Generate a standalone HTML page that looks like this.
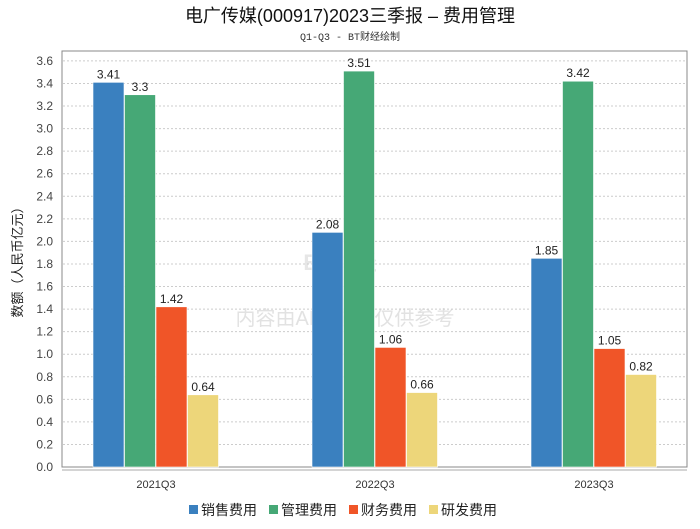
<!DOCTYPE html>
<html><head><meta charset="utf-8"><style>
body{margin:0;background:#fff;font-family:"Liberation Sans","Noto Sans CJK SC",sans-serif}
</style></head><body>
<svg width="700" height="524" xmlns="http://www.w3.org/2000/svg" id="chart">
<text x="350" y="22" text-anchor="middle" font-size="18" fill="#111" font-family="Liberation Sans,Noto Sans CJK SC,sans-serif">电广传媒(000917)2023三季报 – 费用管理</text>
<text x="350" y="40" text-anchor="middle" font-size="10" fill="#333" font-family="Liberation Mono,Noto Sans CJK SC,monospace">Q1-Q3 - BT财经绘制</text>
<text x="340" y="270" text-anchor="middle" font-size="22" font-weight="bold" fill="#e6e6e6">BT财经</text>
<text x="345" y="325" text-anchor="middle" font-size="20" fill="#e2e2e2">内容由AI生成，仅供参考</text>
<rect x="62" y="51" width="625" height="416" fill="none" stroke="#888"/>
<g id="grid"></g><g id="bars"></g><g id="axes"></g>
<text transform="translate(22,259) rotate(-90)" text-anchor="middle" font-size="13" fill="#222">数额（人民币亿元）</text>
<g id="legend"></g>
</svg>
<script>
const categories=["2021Q3","2022Q3","2023Q3"];
const seriesNames=["销售费用","管理费用","财务费用","研发费用"];
const sales=[3.41,2.08,1.85];
const admin=[3.3,3.51,3.42];
const finance=[1.42,1.06,1.05];
const rnd=[0.64,0.66,0.82];
const yTicks=[0,0.2,0.4,0.6,0.8,1.0,1.2,1.4,1.6,1.8,2.0,2.2,2.4,2.6,2.8,3.0,3.2,3.4,3.6];
const colors=["#3a80bf","#46a876","#f05528","#edd67a"];
const series=[sales,admin,finance,rnd];
const NS="http://www.w3.org/2000/svg";
const y=v=>467-v*112.8;
const xc=i=>156+i*219;
function mk(t,a,p){const e=document.createElementNS(NS,t);for(const k in a)e.setAttribute(k,a[k]);p.appendChild(e);return e;}
const grid=document.getElementById('grid'),axes=document.getElementById('axes'),bars=document.getElementById('bars'),legend=document.getElementById('legend');
yTicks.forEach(v=>{
 if(v>0){const l=mk('line',{x1:63,x2:686,y1:y(v),y2:y(v),stroke:'#ccc','stroke-dasharray':'2,2'},grid);
 
 }
 const t=mk('text',{x:53,y:y(v)+4,'text-anchor':'end','font-size':12,fill:'#444'},axes);t.textContent=v.toFixed(1);
 
 
});
const xl=mk('line',{x1:62,x2:687,y1:470,y2:470,stroke:'#aaa'},axes);


categories.forEach((c,i)=>{
 const t=mk('text',{x:xc(i),y:488,'text-anchor':'middle','font-size':11,fill:'#333'},axes);t.textContent=c;
 
 
 series.forEach((s,j)=>{
  const x0=xc(i)-63+j*31.5;
  const r=mk('rect',{x:x0,y:y(s[i]),width:31,height:467-y(s[i]),fill:colors[j],stroke:'#fff','stroke-width':0.6},bars);
  
  
  const lb=mk('text',{x:x0+15.5,y:y(s[i])-4,'text-anchor':'middle','font-size':12,fill:'#222'},bars);lb.textContent=String(s[i]);
  
  
 });
});
seriesNames.forEach((n,j)=>{
 const x0=189+j*80;
 const g=mk('g',{},legend);
 
 
 mk('rect',{x:x0,y:505,width:9,height:9,fill:colors[j]},g);
 const t=mk('text',{x:x0+12,y:515,'font-size':14,fill:'#222'},g);t.textContent=n;
});
</script>
</body></html>
